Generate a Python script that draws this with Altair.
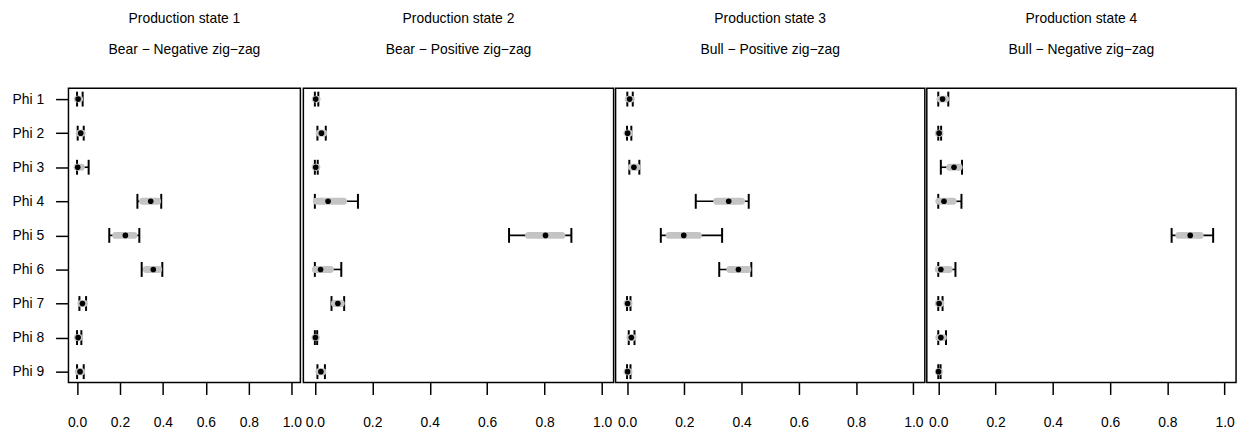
import altair as alt
import pandas as pd

phi = [1, 2, 3, 4, 5, 6, 7, 8, 9]
state_titles = ["Production state 1", "Production state 2", "Production state 3", "Production state 4"]
regime_titles = ["Bear \u2212 Negative zig\u2212zag", "Bear \u2212 Positive zig\u2212zag",
                 "Bull \u2212 Positive zig\u2212zag", "Bull \u2212 Negative zig\u2212zag"]
x_ticks = [0.0, 0.2, 0.4, 0.6, 0.8, 1.0]

# Panel 1
est1 = [0.005, 0.017, 0.003, 0.343, 0.225, 0.355, 0.025, 0.005, 0.014]
lo1 = [0.0, 0.003, 0.0, 0.281, 0.150, 0.301, 0.011, 0.0, 0.0]
hi1 = [0.026, 0.031, 0.054, 0.392, 0.290, 0.397, 0.042, 0.020, 0.031]
glo1 = [0.001, 0.010, 0.000, 0.305, 0.180, 0.322, 0.018, 0.001, 0.006]
ghi1 = [0.012, 0.024, 0.020, 0.375, 0.265, 0.380, 0.034, 0.012, 0.022]

# Panel 2
est2 = [0.003, 0.023, 0.003, 0.046, 0.803, 0.020, 0.080, 0.002, 0.021]
lo2 = [0.0, 0.009, 0.0, 0.0, 0.676, 0.0, 0.058, 0.0, 0.009]
hi2 = [0.012, 0.038, 0.010, 0.150, 0.893, 0.092, 0.102, 0.008, 0.035]
glo2 = [0.001, 0.015, 0.001, 0.005, 0.744, 0.002, 0.068, 0.000, 0.014]
ghi2 = [0.008, 0.031, 0.007, 0.100, 0.860, 0.054, 0.092, 0.005, 0.028]

# Panel 3
est3 = [0.009, 0.002, 0.024, 0.355, 0.198, 0.389, 0.002, 0.015, 0.002]
lo3 = [0.001, 0.0, 0.008, 0.240, 0.118, 0.322, 0.0, 0.006, 0.0]
hi3 = [0.020, 0.015, 0.043, 0.425, 0.332, 0.434, 0.012, 0.026, 0.012]
glo3 = [0.004, 0.000, 0.015, 0.313, 0.147, 0.359, 0.000, 0.010, 0.000]
ghi3 = [0.015, 0.008, 0.035, 0.400, 0.249, 0.422, 0.007, 0.021, 0.007]

# Panel 4
est4 = [0.015, 0.003, 0.055, 0.020, 0.880, 0.009, 0.003, 0.009, 0.001]
lo4 = [0.0, 0.0, 0.009, 0.0, 0.815, 0.0, 0.0, 0.0, 0.0]
hi4 = [0.035, 0.010, 0.083, 0.081, 0.960, 0.060, 0.015, 0.027, 0.008]
glo4 = [0.006, 0.000, 0.040, 0.002, 0.840, 0.000, 0.000, 0.002, 0.000]
ghi4 = [0.026, 0.006, 0.073, 0.052, 0.915, 0.038, 0.009, 0.018, 0.004]

panel_data = [
    (est1, lo1, hi1, glo1, ghi1),
    (est2, lo2, hi2, glo2, ghi2),
    (est3, lo3, hi3, glo3, ghi3),
    (est4, lo4, hi4, glo4, ghi4),
]
widths = [234, 313, 312, 312]

FONT = "Liberation Sans"
FS = 14


def make_panel(i):
    est, lo, hi, glo, ghi = panel_data[i]
    df = pd.DataFrame({"phi": phi, "est": est, "lo": lo, "hi": hi, "glo": glo, "ghi": ghi})
    base = alt.Chart(df)
    xscale = alt.Scale(domain=[-0.04, 1.04], nice=False, zero=False)
    yscale = alt.Scale(domain=[0.68, 9.32], reverse=True, nice=False, zero=False)
    xaxis = alt.Axis(values=x_ticks, format=".1f", title=None, grid=False, domain=False,
                     labelFlush=False, tickSize=12, tickWidth=1.5, tickColor="black",
                     labelPadding=21, labelFontSize=FS, labelFont=FONT, labelColor="black",
                     labelOverlap=False)
    if i == 0:
        yaxis = alt.Axis(values=phi, labelExpr="'Phi ' + datum.value", title=None, grid=False,
                         domain=False, tickSize=13, tickWidth=1.5, tickColor="black",
                         labelPadding=12, labelFontSize=FS, labelFont=FONT, labelColor="black")
    else:
        yaxis = None
    X = lambda f: alt.X(f"{f}:Q", scale=xscale, axis=xaxis)
    Y = alt.Y("phi:Q", scale=yscale, axis=yaxis)

    whisker = base.mark_rule(color="black", strokeWidth=1.6).encode(x=X("lo"), x2="hi:Q", y=Y)
    lcap = base.mark_tick(color="black", orient="vertical", size=15, thickness=2, opacity=1).encode(x=X("lo"), y=Y)
    hcap = base.mark_tick(color="black", orient="vertical", size=15, thickness=2, opacity=1).encode(x=X("hi"), y=Y)
    grey = base.mark_rule(color="#c4c4c4", strokeWidth=7, strokeCap="round").encode(x=X("glo"), x2="ghi:Q", y=Y)
    dot = base.mark_circle(color="black", size=32, opacity=1).encode(x=X("est"), y=Y)

    return alt.layer(whisker, lcap, hcap, grey, dot).properties(
        width=widths[i], height=297,
        title=alt.TitleParams(text=[state_titles[i], regime_titles[i]], fontSize=FS, font=FONT,
                              fontWeight="normal", color="black", lineHeight=32, offset=31,
                              anchor="middle", frame="group"),
    )


chart = alt.hconcat(*[make_panel(i) for i in range(4)], spacing=0).configure_view(
    stroke="black", strokeWidth=1.5
).properties(padding={"left": 3, "top": 1, "right": 5, "bottom": 5})

chart.save("out.html", embed_options={"renderer": "svg", "actions": False})
